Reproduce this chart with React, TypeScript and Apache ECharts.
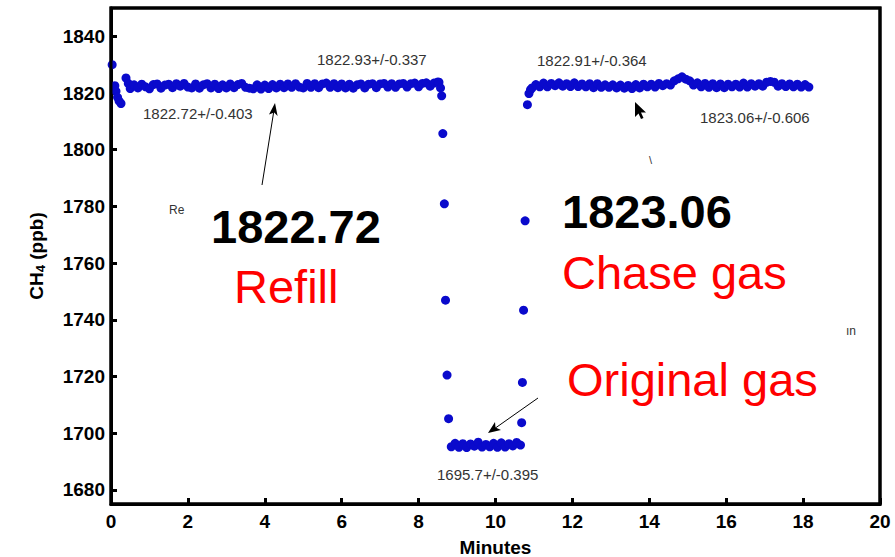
import React, { useEffect, useRef } from "react";
import * as echarts from "echarts";

const FONT = "'Liberation Sans', Arial, Helvetica, sans-serif";

// Initial transient (minutes, ppb)
const startTimes = [0.03, 0.1, 0.13, 0.17, 0.21, 0.26, 0.39, 0.45];
const startValues = [1830, 1822.6, 1820.6, 1818.5, 1817.2, 1816.3, 1825.3, 1823.4];

// Refill plateau, sampled every 0.1 min from 0.5 min
const refillStart = 0.5;
const refillStep = 0.1;
const refillValues = [
  1821.6, 1822.9, 1821.8, 1823.1, 1822.2, 1821.5, 1823.0, 1823.2, 1821.7, 1822.8,
  1823.1, 1821.9, 1823.3, 1822.4, 1823.4, 1822.1, 1821.8, 1823.2, 1821.7, 1822.9,
  1823.3, 1821.8, 1823.1, 1821.6, 1822.9, 1821.8, 1823.2, 1821.9, 1823.0, 1823.4,
  1822.0, 1821.7, 1821.5, 1822.9, 1821.4, 1822.8, 1821.6, 1823.0, 1821.8, 1823.1,
  1821.9, 1823.2, 1822.0, 1823.3, 1822.1, 1821.8, 1823.4, 1822.0, 1823.3, 1821.9,
  1823.2, 1823.5, 1822.0, 1823.3, 1821.9, 1823.2, 1821.8, 1823.1, 1821.7, 1822.9,
  1823.2, 1821.8, 1823.1, 1823.3, 1821.9, 1823.2, 1823.4, 1822.1, 1823.3, 1822.0,
  1823.2, 1823.4, 1822.1, 1823.3, 1823.5, 1822.2, 1823.4, 1823.6, 1822.4, 1823.5, 1823.9,
];

// Drop from refill to original gas
const dropTimes = [8.53, 8.57, 8.6, 8.63, 8.67, 8.7, 8.74, 8.78];
const dropValues = [1823.8, 1821.8, 1819.0, 1805.7, 1780.9, 1746.9, 1720.5, 1705.1];

// Original gas plateau, sampled every 0.1 min from 8.85 min
const originalStart = 8.85;
const originalStep = 0.1;
const originalValues = [
  1695.2, 1696.4, 1695.0, 1696.3, 1694.9, 1696.2, 1695.4, 1696.8, 1695.1, 1696.0,
  1695.2, 1696.4, 1695.0, 1696.6, 1695.1, 1696.3, 1695.5, 1696.7, 1695.8,
];

// Rise from original gas to chase gas
const riseTimes = [10.68, 10.7, 10.73, 10.77, 10.83, 10.87, 10.91];
const riseValues = [1703.7, 1717.9, 1743.4, 1774.9, 1815.9, 1819.8, 1821.2];

// Chase gas plateau, sampled every 0.1 min from 10.95 min
const chaseStart = 10.95;
const chaseStep = 0.1;
const chaseValues = [
  1821.8, 1823.0, 1822.2, 1823.5, 1822.2, 1823.4, 1822.6, 1823.6, 1822.4, 1823.3,
  1822.3, 1823.6, 1822.3, 1823.2, 1822.2, 1823.3, 1821.9, 1823.3, 1822.0, 1822.9,
  1822.0, 1822.9, 1821.8, 1822.8, 1821.7, 1822.7, 1821.6, 1823.0, 1821.8, 1823.1,
  1822.2, 1823.1, 1822.1, 1823.4, 1822.6, 1823.3, 1822.8, 1824.3, 1825.0, 1825.7,
  1824.9, 1824.3, 1822.8, 1823.6, 1822.2, 1823.4, 1822.0, 1823.3, 1821.9, 1823.2,
  1821.9, 1823.1, 1822.2, 1823.1, 1822.1, 1823.5, 1822.1, 1823.3, 1822.4, 1823.3,
  1822.4, 1823.8, 1824.1, 1823.8, 1822.4, 1823.3, 1822.3, 1823.2, 1822.2, 1823.1,
  1822.1, 1823.0, 1822.1,
];

const yTicks = [1680, 1700, 1720, 1740, 1760, 1780, 1800, 1820, 1840];

const pairs = (ts: number[], vs: number[]) => ts.map((t, i) => [t, vs[i]]);
const sampled = (start: number, step: number, vs: number[]) =>
  vs.map((v, i) => [Math.round((start + i * step) * 1000) / 1000, v]);

export default function App() {
  const ref = useRef<HTMLDivElement>(null);
  useEffect(() => {
    if (!ref.current) return;
    document.body.style.margin = "0";
    document.body.style.overflow = "hidden";
    const chart = echarts.init(ref.current, undefined, { renderer: "svg" });
    const data = [
      ...pairs(startTimes, startValues),
      ...sampled(refillStart, refillStep, refillValues),
      ...pairs(dropTimes, dropValues),
      ...sampled(originalStart, originalStep, originalValues),
      ...pairs(riseTimes, riseValues),
      ...sampled(chaseStart, chaseStep, chaseValues),
    ];
    const small = (text: string, x: number, y: number) => ({
      type: "text",
      x,
      y,
      z: 10,
      style: { text, fill: "#333", font: `15px ${FONT}`, verticalAlign: "middle", align: "left" },
    });
    const big = (text: string, x: number, y: number, color: string, bold: boolean) => ({
      type: "text",
      x,
      y,
      z: 10,
      style: {
        text,
        fill: color,
        font: `${bold ? "bold " : ""}47px ${FONT}`,
        verticalAlign: "middle",
        align: "left",
      },
    });
    chart.setOption({
      animation: false,
      grid: {
        left: 111,
        right: 15,
        top: 8,
        bottom: 53,
        outerBoundsMode: "none",
        show: true,
        borderColor: "#000",
        borderWidth: 3,
      },
      xAxis: {
        type: "value",
        min: 0,
        max: 20,
        interval: 2,
        position: "bottom",
        axisLine: { show: true, onZero: false, lineStyle: { color: "#000", width: 3 } },
        axisTick: { show: true, inside: true, length: 6, lineStyle: { color: "#000", width: 3 } },
        axisLabel: { color: "#000", fontSize: 19, fontWeight: "bold", fontFamily: FONT, margin: 8 },
        splitLine: { show: false },
        name: "Minutes",
        nameLocation: "middle",
        nameGap: 34,
        nameTextStyle: { color: "#000", fontSize: 19, fontWeight: "bold", fontFamily: FONT },
      },
      yAxis: {
        type: "value",
        min: 1675,
        max: 1850,
        interval: 5,
        position: "left",
        axisLine: { show: true, onZero: false, lineStyle: { color: "#000", width: 3 } },
        axisTick: {
          show: true,
          inside: true,
          length: 6,
          lineStyle: { color: "#000", width: 3 },
          customValues: yTicks,
        },
        axisLabel: {
          color: "#000",
          fontSize: 19,
          fontWeight: "bold",
          fontFamily: FONT,
          margin: 6,
          customValues: yTicks,
          formatter: (v: number) => String(v),
        },
        splitLine: { show: false },
        name: "{a|CH}{b|4}{a| (ppb)}",
        nameLocation: "middle",
        nameGap: 64,
        nameRotate: 90,
        nameTextStyle: {
          rich: {
            a: { color: "#000", fontSize: 19, fontWeight: "bold", fontFamily: FONT, lineHeight: 22 },
            b: { color: "#000", fontSize: 13, fontWeight: "bold", fontFamily: FONT, padding: [9, 0, 0, 0] },
          },
        },
      },
      series: [
        {
          type: "scatter",
          data,
          symbol: "circle",
          symbolSize: 9,
          itemStyle: { color: "#0a0acc", opacity: 1 },
        },
      ],
      graphic: [
        {
          type: "rect", z: 30,
          shape: { x: 111, y: 8, width: 769, height: 496 },
          style: { stroke: "#000", lineWidth: 3, fill: "none" },
        },
        small("1822.72+/-0.403", 143, 113),
        small("1822.93+/-0.337", 317, 59),
        small("1822.91+/-0.364", 537, 60),
        small("1823.06+/-0.606", 700, 117),
        small("1695.7+/-0.395", 437, 474),
        {
          type: "text", x: 169, y: 210, z: 10,
          style: { text: "Re", fill: "#333", font: `12px ${FONT}`, verticalAlign: "middle" },
        },
        {
          type: "text", x: 649, y: 160, z: 10,
          style: { text: "\\", fill: "#333", font: `11px ${FONT}`, verticalAlign: "middle" },
        },
        {
          type: "text", x: 846, y: 331, z: 10,
          style: { text: "ın", fill: "#333", font: `12px ${FONT}`, verticalAlign: "middle" },
        },
        big("1822.72", 211, 226, "#000", true),
        big("1823.06", 562, 211, "#000", true),
        big("Refill", 234, 286, "#ff0000", false),
        big("Chase gas", 562, 272, "#ff0000", false),
        big("Original gas", 567, 379, "#ff0000", false),
        {
          type: "line", z: 10,
          shape: { x1: 262, y1: 185, x2: 274, y2: 110 },
          style: { stroke: "#000", lineWidth: 1 },
        },
        {
          type: "polygon", z: 10,
          shape: { points: [[275, 103], [277.6, 116], [274.2, 112.5], [269, 114.5]] },
          style: { fill: "#000" },
        },
        {
          type: "line", z: 10,
          shape: { x1: 538, y1: 398, x2: 494, y2: 429 },
          style: { stroke: "#000", lineWidth: 1 },
        },
        {
          type: "polygon", z: 10,
          shape: { points: [[488, 433], [495, 422], [495.5, 427.5], [501, 430]] },
          style: { fill: "#000" },
        },
        {
          type: "polygon", z: 10,
          shape: {
            points: [[635, 102], [635, 117], [638.5, 113.5], [641, 119], [643.5, 118], [641, 112.5], [646, 112.5]],
          },
          style: { fill: "#000" },
        },
      ],
    });
    return () => chart.dispose();
  }, []);
  return <div ref={ref} style={{ width: 895, height: 557 }} />;
}
